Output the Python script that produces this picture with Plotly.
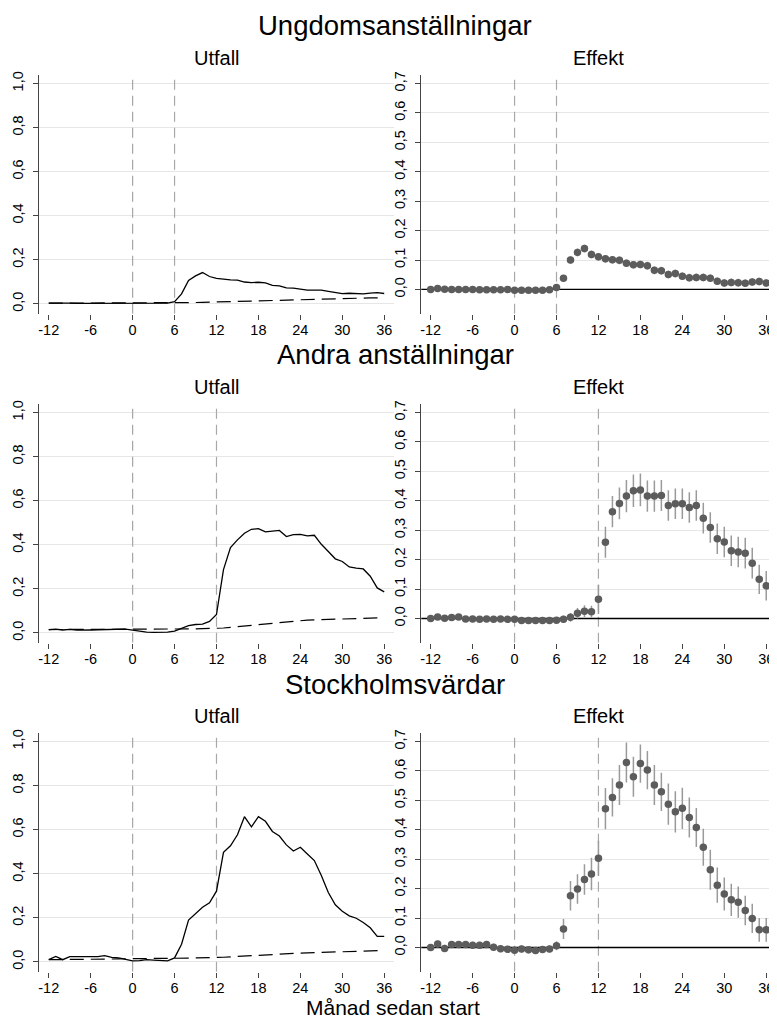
import plotly.graph_objects as go

months = list(range(-12, 37))
xtick_vals = [-12, -6, 0, 6, 12, 18, 24, 30, 36]
xtick_text = ["-12", "-6", "0", "6", "12", "18", "24", "30", "36"]
left_yticks = [0.0, 0.2, 0.4, 0.6, 0.8, 1.0]
right_yticks = [0.0, 0.1, 0.2, 0.3, 0.4, 0.5, 0.6, 0.7]

row_titles = ["Ungdomsanställningar", "Andra anställningar", "Stockholmsvärdar"]
col_titles = ["Utfall", "Effekt"]
x_title = "Månad sedan start"
vlines = [[0, 6], [0, 12], [0, 12]]

# Row 1: Ungdomsanställningar
utfall_1 = [0.003, 0.004, 0.003, 0.003, 0.002, 0.002, 0.002, 0.003, 0.003, 0.003, 0.004, 0.004,
            0.003, 0.002, 0.002, 0.001, 0.002, 0.003, 0.010, 0.045, 0.106, 0.127, 0.142, 0.124,
            0.116, 0.112, 0.109, 0.108, 0.099, 0.096, 0.098, 0.095, 0.084, 0.082, 0.072, 0.071,
            0.066, 0.062, 0.062, 0.062, 0.057, 0.050, 0.046, 0.048, 0.047, 0.045, 0.049, 0.051, 0.047]
kontroll_1 = [0.003, 0.003, 0.003, 0.003, 0.003, 0.003, 0.003, 0.003, 0.003, 0.003, 0.003, 0.003,
              0.003, 0.003, 0.003, 0.003, 0.003, 0.003, 0.004, 0.004, 0.005, 0.006, 0.007, 0.007,
              0.008, 0.009, 0.010, 0.011, 0.012, 0.013, 0.014, 0.015, 0.016, 0.017, 0.018, 0.019,
              0.020, 0.021, 0.021, 0.022, 0.023, 0.024, 0.025, 0.025, 0.026, 0.026, 0.027, 0.027, 0.027]
effekt_1 = [0.000, 0.003, 0.001, 0.000, 0.000, 0.000, 0.000, -0.001, -0.001, -0.001, -0.001, 0.000,
            -0.003, -0.003, -0.003, -0.003, -0.003, -0.001, 0.007, 0.038, 0.100, 0.126, 0.139, 0.119,
            0.111, 0.104, 0.101, 0.099, 0.089, 0.084, 0.085, 0.081, 0.065, 0.064, 0.051, 0.054,
            0.045, 0.040, 0.041, 0.041, 0.038, 0.028, 0.022, 0.024, 0.023, 0.021, 0.025, 0.027, 0.022]
ci_1 = [0.006, 0.006, 0.006, 0.006, 0.006, 0.006, 0.006, 0.006, 0.006, 0.006, 0.006, 0.006,
        0.006, 0.006, 0.006, 0.006, 0.006, 0.006, 0.008, 0.011, 0.013, 0.013, 0.013, 0.013,
        0.013, 0.013, 0.013, 0.013, 0.013, 0.013, 0.013, 0.013, 0.013, 0.013, 0.013, 0.013,
        0.013, 0.013, 0.013, 0.013, 0.013, 0.013, 0.013, 0.013, 0.013, 0.013, 0.013, 0.013, 0.013]

# Row 2: Andra anställningar
utfall_2 = [0.015, 0.017, 0.013, 0.016, 0.012, 0.014, 0.013, 0.014, 0.015, 0.016, 0.014, 0.017,
            0.012, 0.006, 0.003, 0.002, 0.002, 0.003, 0.008, 0.022, 0.033, 0.038, 0.040, 0.052,
            0.084, 0.287, 0.387, 0.422, 0.452, 0.470, 0.473, 0.458, 0.461, 0.465, 0.437, 0.446,
            0.447, 0.440, 0.443, 0.402, 0.369, 0.336, 0.324, 0.299, 0.294, 0.290, 0.257, 0.204, 0.186]
kontroll_2 = [0.015, 0.015, 0.015, 0.015, 0.015, 0.015, 0.015, 0.015, 0.015, 0.015, 0.015, 0.015,
              0.015, 0.015, 0.016, 0.016, 0.016, 0.017, 0.017, 0.017, 0.018, 0.018, 0.019, 0.019,
              0.020, 0.022, 0.025, 0.028, 0.031, 0.034, 0.037, 0.040, 0.044, 0.048, 0.052, 0.055,
              0.057, 0.058, 0.059, 0.060, 0.061, 0.062, 0.063, 0.064, 0.065, 0.066, 0.067, 0.068, 0.069]
effekt_2 = [0.000, 0.005, 0.001, 0.003, 0.005, -0.002, -0.002, -0.003, -0.002, -0.003, -0.002, -0.003,
            -0.003, -0.007, -0.007, -0.007, -0.007, -0.007, -0.006, -0.003, 0.004, 0.018, 0.025, 0.023,
            0.065, 0.259, 0.363, 0.391, 0.416, 0.434, 0.437, 0.416, 0.416, 0.418, 0.384, 0.390,
            0.390, 0.377, 0.384, 0.341, 0.309, 0.271, 0.260, 0.230, 0.226, 0.222, 0.188, 0.133, 0.111]
ci_2 = [0.008, 0.008, 0.008, 0.008, 0.008, 0.008, 0.008, 0.008, 0.008, 0.008, 0.008, 0.008,
        0.008, 0.008, 0.008, 0.008, 0.008, 0.008, 0.009, 0.012, 0.015, 0.018, 0.020, 0.020,
        0.050, 0.053, 0.053, 0.054, 0.055, 0.055, 0.056, 0.053, 0.053, 0.053, 0.052, 0.052,
        0.052, 0.052, 0.052, 0.052, 0.052, 0.052, 0.052, 0.052, 0.052, 0.052, 0.052, 0.050, 0.050]

# Row 3: Stockholmsvärdar
utfall_3 = [0.010, 0.025, 0.010, 0.024, 0.024, 0.024, 0.024, 0.024, 0.028, 0.020, 0.018, 0.012,
            0.005, 0.006, 0.010, 0.008, 0.008, 0.005, 0.018, 0.080, 0.190, 0.218, 0.248, 0.268,
            0.321, 0.497, 0.527, 0.577, 0.659, 0.613, 0.659, 0.638, 0.592, 0.571, 0.531, 0.503,
            0.520, 0.490, 0.460, 0.392, 0.315, 0.259, 0.230, 0.209, 0.198, 0.179, 0.155, 0.116, 0.116]
kontroll_3 = [0.010, 0.010, 0.011, 0.011, 0.012, 0.012, 0.012, 0.013, 0.013, 0.013, 0.014, 0.014,
              0.014, 0.014, 0.015, 0.015, 0.015, 0.016, 0.016, 0.017, 0.017, 0.018, 0.018, 0.019,
              0.020, 0.021, 0.023, 0.025, 0.027, 0.029, 0.031, 0.033, 0.035, 0.037, 0.038, 0.039,
              0.040, 0.041, 0.042, 0.043, 0.044, 0.045, 0.046, 0.047, 0.048, 0.049, 0.050, 0.051, 0.052]
effekt_3 = [0.000, 0.012, -0.003, 0.010, 0.010, 0.010, 0.008, 0.008, 0.010, 0.001, -0.004, -0.006,
            -0.009, -0.005, -0.008, -0.010, -0.007, -0.005, 0.006, 0.063, 0.176, 0.199, 0.231, 0.250,
            0.303, 0.472, 0.510, 0.552, 0.629, 0.580, 0.625, 0.603, 0.552, 0.529, 0.487, 0.461,
            0.473, 0.442, 0.408, 0.341, 0.264, 0.212, 0.182, 0.162, 0.154, 0.126, 0.099, 0.060, 0.060]
ci_3 = [0.012, 0.012, 0.012, 0.012, 0.012, 0.012, 0.012, 0.012, 0.012, 0.012, 0.012, 0.012,
        0.012, 0.012, 0.012, 0.012, 0.012, 0.012, 0.015, 0.034, 0.050, 0.050, 0.052, 0.055,
        0.060, 0.070, 0.065, 0.068, 0.068, 0.068, 0.065, 0.065, 0.068, 0.065, 0.070, 0.070,
        0.070, 0.068, 0.066, 0.063, 0.068, 0.060, 0.056, 0.055, 0.053, 0.050, 0.050, 0.040, 0.040]

utfall = [utfall_1, utfall_2, utfall_3]
kontroll = [kontroll_1, kontroll_2, kontroll_3]
effekt = [effekt_1, effekt_2, effekt_3]
ci = [ci_1, ci_2, ci_3]

# page has an 8px body margin, so the figure is drawn 8px smaller and offset
OFF = 8
W, H = 777 - OFF, 1021 - OFF
FONT = "Liberation Sans, Arial, Helvetica, sans-serif"

col_px = [(38.3 - OFF, 394.0 - OFF), (420.7 - OFF, 776.5 - OFF)]
row_top = [71.7 - OFF, 401.7 - OFF, 731.7 - OFF]
row_h = 240.0
x_range = [-13.36, 37.47]
left_range = [-0.0452, 1.0407]
right_range = [-0.0827, 0.7305]

fig = go.Figure()
annotations = []

for r in range(3):
    for c in range(2):
        k = r * 2 + c + 1
        xa = "x" if k == 1 else f"x{k}"
        ya = "y" if k == 1 else f"y{k}"
        x0p, x1p = col_px[c]
        top, bot = row_top[r], row_top[r] + row_h
        yr = left_range if c == 0 else right_range
        fig.layout[f"xaxis{k}"] = dict(
            domain=[x0p / W, x1p / W], range=x_range, anchor=ya,
            tickmode="array", tickvals=xtick_vals, ticktext=xtick_text,
            ticks="outside", ticklen=5, tickcolor="#444",
            showgrid=False, zeroline=False, showline=False,
            ticklabeloverflow="allow", ticklabelstandoff=-2,
            tickfont=dict(family=FONT, size=14.5, color="#000"),
        )
        fig.layout[f"yaxis{k}"] = dict(
            domain=[1 - bot / H, 1 - top / H],
            range=yr, anchor=xa,
            tickmode="array", tickvals=left_yticks if c == 0 else right_yticks,
            tickformat=".1f", tickangle=-90, ticks="outside", ticklen=5,
            tickcolor="#444", showline=True, linecolor="#444", linewidth=1,
            showgrid=True, gridcolor="#e6e6e6", gridwidth=1, zeroline=False,
            ticklabelstandoff=4,
            tickfont=dict(family=FONT, size=14.5, color="#000"),
        )
        for v in vlines[r]:
            fig.add_trace(go.Scatter(x=[v, v], y=yr, mode="lines", xaxis=xa, yaxis=ya,
                                     line=dict(color="#a8a8a8", width=1.2, dash="10px,6px"),
                                     hoverinfo="skip", showlegend=False))
        if c == 0:
            fig.add_trace(go.Scatter(x=months, y=kontroll[r], mode="lines", xaxis=xa, yaxis=ya,
                                     line=dict(color="#000", width=1.2, dash="14px,7px"),
                                     showlegend=False))
            fig.add_trace(go.Scatter(x=months, y=utfall[r], mode="lines", xaxis=xa, yaxis=ya,
                                     line=dict(color="#000", width=1.3), showlegend=False))
        else:
            fig.add_trace(go.Scatter(x=x_range, y=[0, 0], mode="lines", xaxis=xa, yaxis=ya,
                                     line=dict(color="#000", width=1.3),
                                     hoverinfo="skip", showlegend=False))
            fig.add_trace(go.Scatter(
                x=months, y=effekt[r], mode="markers", xaxis=xa, yaxis=ya,
                marker=dict(symbol="circle", size=7.5, color="#5c5c5c"),
                error_y=dict(type="data", array=ci[r], visible=True, color="#9a9a9a",
                             thickness=1.5, width=0),
                showlegend=False))
        annotations.append(dict(text=col_titles[c], x=(x0p + x1p) / 2 / W, y=1 - (top - 16.7) / H,
                                xref="paper", yref="paper", showarrow=False,
                                xanchor="center", yanchor="middle",
                                font=dict(family=FONT, size=20, color="#000")))
    annotations.append(dict(text=row_titles[r], x=(395 - OFF) / W, y=1 - (row_top[r] - 48.7) / H,
                            xref="paper", yref="paper", showarrow=False,
                            xanchor="center", yanchor="middle",
                            font=dict(family=FONT, size=27.5, color="#000")))

annotations.append(dict(text=x_title, x=(392 - OFF) / W, y=1 - (1007 - OFF) / H,
                        xref="paper", yref="paper",
                        showarrow=False, xanchor="center", yanchor="middle",
                        font=dict(family=FONT, size=21, color="#000")))

fig.update_layout(width=W, height=H, margin=dict(l=0, r=0, t=0, b=0),
                  paper_bgcolor="white", plot_bgcolor="white", separators=",.",
                  annotations=annotations, showlegend=False)

fig.write_html("out.html")
